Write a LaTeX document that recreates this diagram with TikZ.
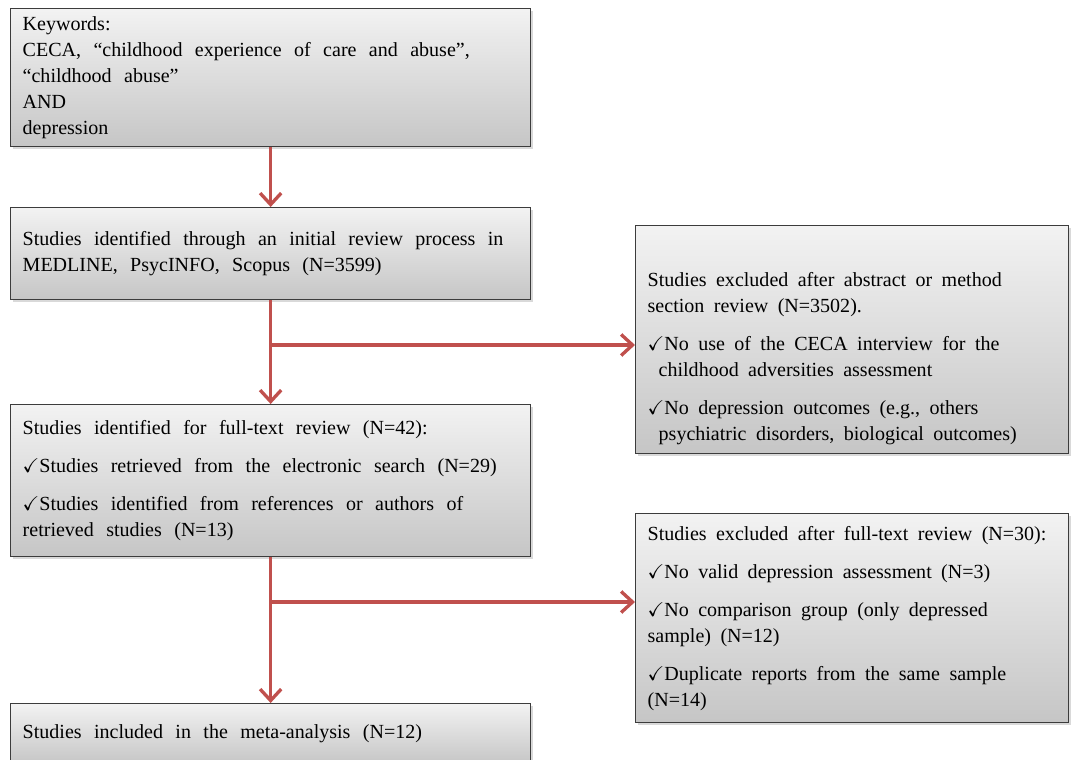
\documentclass[tikz,border=0pt]{standalone}
\usepackage{fontspec}
\setmainfont{Liberation Serif}
\usepackage{amssymb}
\usetikzlibrary{arrows.meta,shadows}

\definecolor{arrowred}{HTML}{C0504D}
\definecolor{boxline}{HTML}{3C3C3C}

\newcommand{\chk}{$\checkmark$}
\newcommand{\hang}{\hspace*{0.22cm}}
\newcommand{\widespaces}[1]{\spaceskip=#1\relax}

\tikzset{
  stage/.style={draw=boxline, line width=0.8pt, top color=gray!10, bottom color=gray!45,
    drop shadow={shadow xshift=1.2pt, shadow yshift=-1.2pt, opacity=0.3},
    anchor=north west, inner xsep=0.24cm, inner ysep=0pt, align=left,
    font=\fontsize{11.4}{14.8}\selectfont},
  leftbox/.style={stage, text width=9.92cm, execute at begin node=\widespaces{0.62em}},
  rightbox/.style={stage, text width=8.18cm, execute at begin node=\widespaces{0.47em}},
  flow/.style={draw=arrowred, line width=1.9pt, -{Straight Barb[length=6.5pt,width=12pt]}},
}

\begin{document}
\begin{tikzpicture}[x=0.02cm, y=-0.02cm]
  \useasboundingbox (0,0) rectangle (1073,760);

  % left column
  \node[leftbox, minimum height=2.76cm] (keywords) at (10,8)
    {Keywords:\\
     CECA, “childhood experience of care and abuse”,\\
     “childhood abuse”\\
     AND\\
     depression};
  \node[leftbox, minimum height=1.84cm] (identified) at (10,207)
    {Studies identified through an initial review process in\\
     MEDLINE, PsycINFO, Scopus (N=3599)};
  \node[leftbox, minimum height=3.04cm] (fulltext) at (10,404)
    {Studies identified for full-text review (N=42):\\[0.24cm]
     \chk Studies retrieved from the electronic search (N=29)\\[0.24cm]
     \chk Studies identified from references or authors of\\
     retrieved studies (N=13)};
  \node[leftbox, minimum height=1.2cm] (included) at (10,703)
    {Studies included in the meta-analysis (N=12)};

  % right column
  \node[rightbox, minimum height=4.56cm] (excl1) at (635,225)
    {\rule{0pt}{1.05cm}Studies excluded after abstract or method\\
     section review (N=3502).\\[0.24cm]
     \chk No use of the CECA interview for the\\
     \hang childhood adversities assessment\\[0.24cm]
     \chk No depression outcomes (e.g., others\\
     \hang psychiatric disorders, biological outcomes)};
  \node[rightbox, minimum height=4.18cm] (excl2) at (635,513)
    {Studies excluded after full-text review (N=30):\\[0.24cm]
     \chk No valid depression assessment (N=3)\\[0.24cm]
     \chk No comparison group (only depressed\\
     sample) (N=12)\\[0.24cm]
     \chk Duplicate reports from the same sample\\
     (N=14)};

  \coordinate (br1) at (635,345);
  \coordinate (br2) at (635,602);

  \draw[flow] (keywords) -- (identified);
  \draw[flow] (identified) -- (fulltext);
  \draw[flow] (identified.south |- br1) -- (br1);
  \draw[flow] (fulltext) -- (included);
  \draw[flow] (fulltext.south |- br2) -- (br2);
\end{tikzpicture}
\end{document}
